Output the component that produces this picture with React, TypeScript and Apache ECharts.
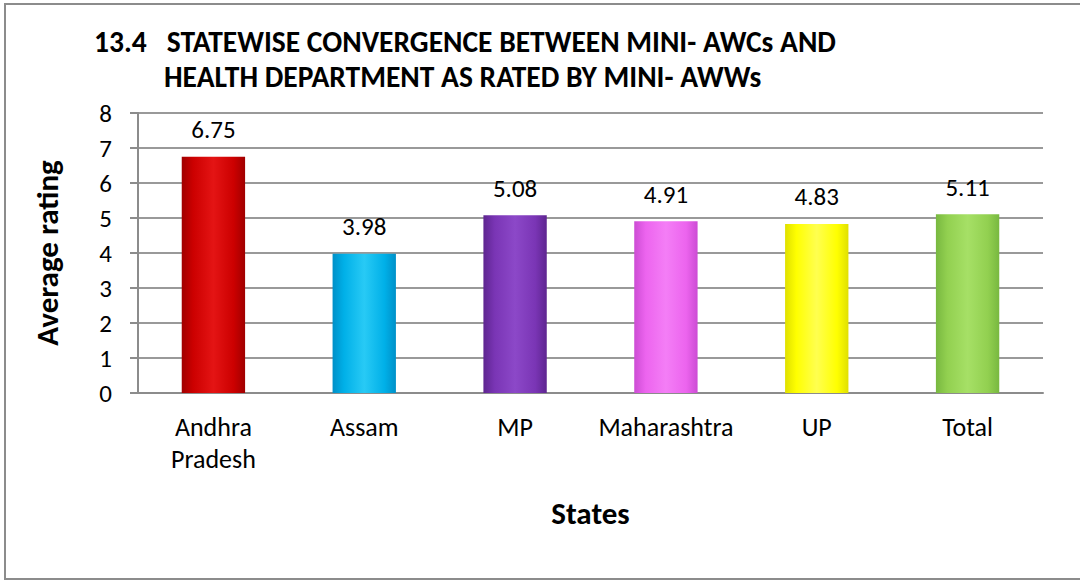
import React, { useEffect, useRef } from "react";
import * as echarts from "echarts";

const categories = ["Andhra\nPradesh", "Assam", "MP", "Maharashtra", "UP", "Total"];
const values = [6.75, 3.98, 5.08, 4.91, 4.83, 5.11];
const yMin = 0;
const yMax = 8;
const yStep = 1;
const titleLine1 = "13.4   STATEWISE CONVERGENCE BETWEEN MINI- AWCs AND";
const titleLine2 = "HEALTH DEPARTMENT AS RATED BY MINI- AWWs";
const yAxisTitle = "Average rating";
const xAxisTitle = "States";
// [edge, base, highlight]
const barColors = [
  ["#a00000", "#cc0000", "#e41414"],
  ["#0090c8", "#00b0e8", "#28caf5"],
  ["#5e2590", "#7a35b5", "#8c48c8"],
  ["#cc4cd4", "#ec64ee", "#f47ef6"],
  ["#e0e000", "#ffff00", "#ffff50"],
  ["#78b840", "#92d050", "#a6e066"],
];

const FONT = "Carlito, Lato, 'Open Sans', sans-serif";

export default function App() {
  const ref = useRef<HTMLDivElement>(null);
  useEffect(() => {
    document.body.style.margin = "0";
    const chart = echarts.init(ref.current!, undefined, { renderer: "svg" });
    const data = values.map((v, i) => ({
      value: v,
      itemStyle: {
        color: new echarts.graphic.LinearGradient(0, 0, 1, 0, [
          { offset: 0, color: barColors[i][0] },
          { offset: 0.18, color: barColors[i][1] },
          { offset: 0.5, color: barColors[i][2] },
          { offset: 0.82, color: barColors[i][1] },
          { offset: 1, color: barColors[i][0] },
        ]),
      },
    }));
    chart.setOption({
      animation: false,
      backgroundColor: "#ffffff",
      textStyle: { fontFamily: FONT },
      graphic: [
        {
          type: "rect",
          shape: { x: 5, y: 4, width: 1110, height: 575 },
          style: { fill: "none", stroke: "#8c8c8c", lineWidth: 2 },
          silent: true,
        },
        {
          type: "text",
          x: 94,
          y: 42,
          style: {
            text: titleLine1,
            font: `bold 29.5px ${FONT}`,
            fill: "#000",
            textVerticalAlign: "middle",
          },
        },
        {
          type: "text",
          x: 164,
          y: 77,
          style: {
            text: titleLine2,
            font: `bold 29.5px ${FONT}`,
            fill: "#000",
            textVerticalAlign: "middle",
          },
        },
      ],
      grid: { left: 138, right: 37, top: 113, bottom: 188, containLabel: false },
      xAxis: {
        type: "category",
        data: categories,
        axisLine: { show: true, lineStyle: { color: "#8c8c8c", width: 2 } },
        axisTick: { show: false },
        axisLabel: {
          color: "#000",
          fontSize: 26,
          lineHeight: 32,
          margin: 18,
          fontFamily: FONT,
          interval: 0,
        },
        name: xAxisTitle,
        nameLocation: "middle",
        nameGap: 104,
        nameTextStyle: { color: "#000", fontSize: 31, fontWeight: "bold", lineHeight: 32, fontFamily: FONT },
      },
      yAxis: {
        type: "value",
        min: yMin,
        max: yMax,
        interval: yStep,
        axisLine: { show: true, lineStyle: { color: "#8c8c8c", width: 2 } },
        axisTick: { show: true, length: 8, lineStyle: { color: "#8c8c8c", width: 2 } },
        splitLine: { show: true, lineStyle: { color: "#999999", width: 2 } },
        axisLabel: { color: "#000", fontSize: 25, margin: 26, fontFamily: FONT },
        name: yAxisTitle,
        nameLocation: "middle",
        nameRotate: 90,
        nameGap: 75,
        nameTextStyle: { color: "#000", fontSize: 31, fontWeight: "bold", lineHeight: 32, fontFamily: FONT },
      },
      series: [
        {
          type: "bar",
          data,
          barWidth: "42%",
          label: {
            show: true,
            position: "top",
            distance: 12,
            color: "#000",
            fontSize: 25,
            lineHeight: 30,
            fontFamily: FONT,
            formatter: (p: any) => p.value.toFixed(2),
          },
        },
      ],
    });
    return () => chart.dispose();
  }, []);
  return (
    <div
      ref={ref}
      style={{ width: 1080, height: 581, position: "absolute", left: 0, top: 0 }}
    />
  );
}
